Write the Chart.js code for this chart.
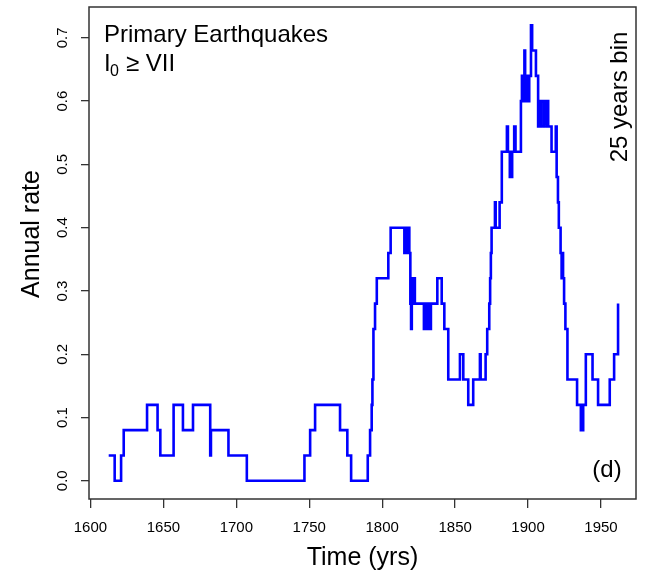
<!DOCTYPE html>
<html>
<head>
<meta charset="utf-8">
<title>Primary Earthquakes - annual rate</title>
<script src="https://cdn.jsdelivr.net/npm/chart.js@4.4.0/dist/chart.umd.min.js"></script>
<style>
  html, body { margin: 0; padding: 0; background: #fff; }
  canvas { display: block; }
</style>
</head>
<body>
<canvas id="chart" width="648" height="573"></canvas>
<script>
// change points of the 25-year moving rate: rate holds from that year until the next one
const years = [
  1612.5, 1616.6, 1621, 1622.8, 1638.8, 1646, 1647.9, 1657, 1663.4, 1670.3,
  1682.1, 1682.6, 1694.6, 1707.2, 1746.7, 1750.6, 1754, 1771.1, 1776.1, 1778.7,
  1790.1, 1791.7, 1792.8, 1793.3, 1794, 1795.1, 1796.3, 1804.2, 1805.8, 1815.2,
  1815.8, 1816.5, 1817.2, 1818.6, 1819.3, 1819.8, 1820.3, 1821, 1821.6, 1822.4,
  1828.6, 1829.5, 1830.2, 1831.2, 1831.8, 1833.4, 1837.8, 1840.8, 1842.6, 1845.3,
  1853.3, 1855.6, 1859, 1862.4, 1867, 1867.5, 1870.9, 1872, 1873.4, 1874,
  1874.5, 1875, 1877.3, 1877.8, 1880.5, 1882, 1885.5, 1886.2, 1887.5, 1889.1,
  1890.5, 1891.4, 1895.1, 1895.8, 1896.3, 1896.9, 1897.5, 1898, 1898.6, 1899.2,
  1899.7, 1900.3, 1900.8, 1902, 1902.8, 1905.4, 1906.9, 1907.5, 1908.1, 1908.7,
  1910.5, 1911, 1912.8, 1913.3, 1913.8, 1916.1, 1919, 1919.6, 1920.5, 1921.1,
  1922.3, 1923, 1923.5, 1924, 1924.7, 1925.6, 1927, 1933.6, 1936.2, 1937.8,
  1939.6, 1944.2, 1948, 1956, 1959, 1961.7
];
const rates = [
  0.04, 0, 0.04, 0.08, 0.12, 0.08, 0.04, 0.12, 0.08, 0.12,
  0.04, 0.08, 0.04, 0, 0.04, 0.08, 0.12, 0.08, 0.04, 0,
  0.04, 0.08, 0.12, 0.16, 0.24, 0.28, 0.32, 0.36, 0.40, 0.36,
  0.40, 0.36, 0.40, 0.36, 0.28, 0.24, 0.32, 0.28, 0.32, 0.28,
  0.24, 0.28, 0.24, 0.28, 0.24, 0.28, 0.32, 0.28, 0.24, 0.16,
  0.20, 0.16, 0.12, 0.16, 0.20, 0.16, 0.20, 0.24, 0.28, 0.32,
  0.36, 0.40, 0.44, 0.40, 0.44, 0.52, 0.56, 0.52, 0.48, 0.52,
  0.56, 0.52, 0.60, 0.64, 0.60, 0.64, 0.68, 0.60, 0.64, 0.60,
  0.64, 0.60, 0.64, 0.72, 0.68, 0.64, 0.56, 0.60, 0.56, 0.60,
  0.56, 0.60, 0.56, 0.60, 0.56, 0.52, 0.56, 0.48, 0.44, 0.40,
  0.36, 0.32, 0.36, 0.32, 0.28, 0.24, 0.16, 0.12, 0.08, 0.12,
  0.20, 0.16, 0.12, 0.16, 0.20, 0.28
];
const xTicks = [1600, 1650, 1700, 1750, 1800, 1850, 1900, 1950];
const yTicks = [0, 0.1, 0.2, 0.3, 0.4, 0.5, 0.6, 0.7];

const FONT = '"Liberation Sans", Arial, sans-serif';
const INK = '#000';

// box, rotated y labels and the in-panel notes
const annotations = {
  id: 'annotations',
  afterDraw(chart) {
    const { ctx, chartArea: a, scales: { y } } = chart;
    ctx.save();
    ctx.strokeStyle = '#333';
    ctx.lineWidth = 1.5;
    ctx.strokeRect(a.left, a.top, a.right - a.left, a.bottom - a.top);

    ctx.fillStyle = INK;
    ctx.font = '15px ' + FONT;
    ctx.textAlign = 'center';
    ctx.textBaseline = 'alphabetic';
    yTicks.forEach(v => {
      ctx.save();
      ctx.translate(a.left - 22, y.getPixelForValue(v));
      ctx.rotate(-Math.PI / 2);
      ctx.fillText(v.toFixed(1), 0, 0);
      ctx.restore();
    });

    // y axis title
    ctx.save();
    ctx.font = '25px ' + FONT;
    ctx.textBaseline = 'middle';
    ctx.translate(32, 234);
    ctx.rotate(-Math.PI / 2);
    ctx.fillText('Annual rate', 0, 0);
    ctx.restore();

    // bin width note
    ctx.save();
    ctx.font = '24px ' + FONT;
    ctx.textBaseline = 'alphabetic';
    ctx.translate(627, 97);
    ctx.rotate(-Math.PI / 2);
    ctx.fillText('25 years bin', 0, 0);
    ctx.restore();

    ctx.textAlign = 'left';
    ctx.font = '24px ' + FONT;
    ctx.fillText('Primary Earthquakes', 104, 42);
    ctx.fillText('I', 104, 71);
    ctx.font = '16px ' + FONT;
    ctx.fillText('0', 110, 76);
    ctx.font = '24px ' + FONT;
    ctx.fillText('\u2265 VII', 126, 71);

    ctx.textAlign = 'center';
    ctx.fillText('(d)', 607, 477);
    ctx.restore();
  }
};

new Chart(document.getElementById('chart'), {
  type: 'line',
  data: {
    datasets: [{
      data: years.map((yr, i) => ({ x: yr, y: rates[i] })),
      borderColor: '#0000ff',
      borderWidth: 2.6,
      stepped: true,
      pointRadius: 0,
      fill: false,
      tension: 0
    }]
  },
  options: {
    responsive: false,
    animation: false,
    devicePixelRatio: 1,
    layout: { padding: { top: 7, right: 12, left: 0, bottom: 0 } },
    plugins: { legend: { display: false }, tooltip: { enabled: false } },
    scales: {
      x: {
        type: 'linear',
        min: 1599,
        max: 1974,
        afterBuildTicks: s => { s.ticks = xTicks.map(v => ({ value: v })); },
        afterFit: s => { s.height = 74; },
        grid: { drawOnChartArea: false, drawTicks: true, tickLength: 9, color: '#333', lineWidth: 1.3 },
        border: { display: false },
        ticks: {
          color: INK,
          font: { family: FONT, size: 15 },
          padding: 11,
          maxRotation: 0,
          callback: v => String(v)
        },
        title: { display: true, text: 'Time (yrs)', color: INK, font: { family: FONT, size: 25 }, padding: { top: 0, bottom: 0 } }
      },
      y: {
        type: 'linear',
        min: -0.0288,
        max: 0.7488,
        afterBuildTicks: s => { s.ticks = yTicks.map(v => ({ value: v })); },
        afterFit: s => { s.width = 89; },
        grid: { drawOnChartArea: false, drawTicks: true, tickLength: 8, color: '#333', lineWidth: 1.3 },
        border: { display: false },
        ticks: { display: false }
      }
    }
  },
  plugins: [annotations]
});
</script>
</body>
</html>
